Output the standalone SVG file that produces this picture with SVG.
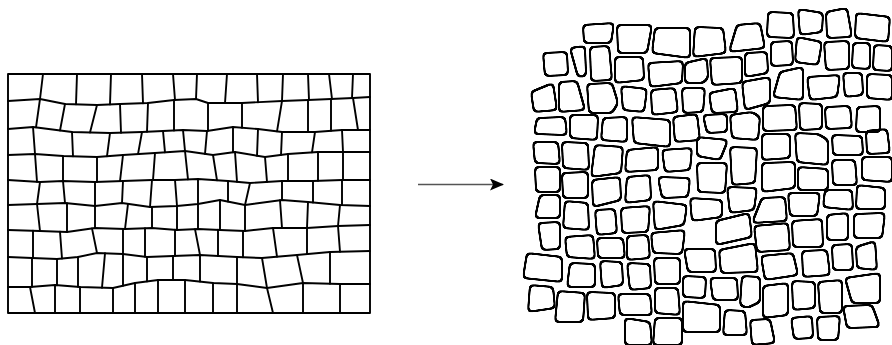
<svg xmlns="http://www.w3.org/2000/svg" width="892" height="345" viewBox="0 0 892 345">
<style>
.g{fill:none;stroke:#000;stroke-width:1.9;stroke-linejoin:round;stroke-linecap:round}
.t{fill:#000;filter:url(#rnd)}
</style>
<defs>
<filter id="rnd" x="-20%" y="-20%" width="140%" height="140%">
<feGaussianBlur in="SourceAlpha" stdDeviation="2" result="b"/>
<feComponentTransfer in="b" result="th"><feFuncA type="linear" slope="12" intercept="-5.5"/></feComponentTransfer>
<feMorphology in="th" operator="erode" radius="1" result="e"/>
<feMorphology in="th" operator="dilate" radius="1" result="d"/>
<feComposite in="d" in2="e" operator="out" result="ring"/>
<feFlood flood-color="#000" result="f"/>
<feComposite in="f" in2="ring" operator="in"/>
</filter>
<marker id="ah" viewBox="0 0 14 12" refX="13" refY="6" markerWidth="14" markerHeight="12" markerUnits="userSpaceOnUse" orient="auto">
<path d="M0,0 L14,6 L0,12 L3,6 Z" fill="#000"/>
</marker>
</defs>
<rect width="892" height="345" fill="#fff"/>
<g id="grid">
<rect class="g" x="8" y="74" width="362" height="239"/>
<polyline class="g" points="8,101 40,99 65,104 97,105 120,104 148,103 174,100 196,99 208,103 242,103 282,101 308,100 331,99 353,98 370,97"/>
<polyline class="g" points="8,129 33,127 72,132 110,133 142,132 163,131 183,130 207,131 233,127 258,129 282,132 315,132 342,130 370,130"/>
<polyline class="g" points="8,155 35,154 63,156 97,157 123,155 155,153 185,151 213,155 235,152 265,157 288,154 318,152 343,152 370,152"/>
<polyline class="g" points="8,180 40,182 63,181 95,182 123,181 152,180 175,180 198,179 228,181 250,183 282,181 313,181 342,180 370,180"/>
<polyline class="g" points="8,205 37,204 65,203 95,206 122,203 150,207 177,206 198,204 220,200 245,205 282,200 308,202 340,205 370,206"/>
<polyline class="g" points="8,230 40,231 67,232 95,228 125,229 152,228 177,230 198,229 220,230 245,231 273,228 307,228 338,226 370,225"/>
<polyline class="g" points="8,257 32,258 57,259 78,257 97,253 123,254 147,257 173,256 200,255 237,257 262,258 297,255 330,252 370,251"/>
<polyline class="g" points="8,287 30,287 55,285 80,287 113,288 135,283 158,280 185,280 213,283 237,284 267,288 303,283 340,284 370,284"/>
<path class="g" d="M43,74L40,99 M77,74L76,104.3 M111,74L110,104.4 M142,74L143,103.2 M173,74L175,100 M197,74L196,99 M227,74L225,103 M257,74L258,102.2 M283,74L282,101 M308,74L309,100 M329,74L332,99 M353,74L352,98"/>
<path class="g" d="M40,99L36,127.4 M65,104L60,130.5 M97,105L90,132.5 M120,104L121,132.7 M148,103L147,131.8 M174,100L174,130.5 M208,103L208,130.8 M242,103L242,127.7 M282,101L277,131.4 M308,100L308,132 M331,99L331,130.8 M353,98L358,130"/>
<path class="g" d="M33,127L35,154 M72,132L73,156.3 M110,133L107,156.2 M142,132L138,154.1 M163,131L165,152.3 M183,130L185,151 M207,131L205,153.9 M233,127L233,152.3 M258,129L257,155.7 M282,132L281,154.9 M315,132L312,152.4 M342,130L343,152"/>
<path class="g" d="M35,154L37,181.8 M63,156L63,181 M97,157L97,181.9 M123,155L120,181.1 M155,153L153,180 M185,151L188,179.4 M213,155L217,180.3 M235,152L237,181.8 M265,157L267,181.9 M288,154L288,181 M318,152L318,180.8 M343,152L343,180"/>
<path class="g" d="M40,182L37,204 M63,181L65,203 M95,182L95,206 M123,181L122,203 M152,180L150,207 M175,180L177,206 M198,179L198,204 M228,181L228,201.6 M250,183L245,205 M282,181L282,200 M313,181L313,202.5 M342,180L342,205.1"/>
<path class="g" d="M37,204L40,231 M67,203.2L67,232 M95,206L95,228 M128,203.9L125,229 M152,206.9L152,228 M177,206L177,230 M198,204L198,229 M220,200L220,230 M245,205L245,231 M280,200.3L282,228 M308,202L307,228 M340,205L338,226"/>
<path class="g" d="M33,230.8L33,258 M60,231.7L62,258.5 M92,228.4L97,253 M123,228.9L123,254 M145,228.3L145,256.75 M175,229.8L175,255.9 M195,229.1L200,255 M218,229.8L218,256 M243,230.9L243,257.2 M273,228L277,256.7 M307,228L307,254.1 M338,226L340,251.75"/>
<path class="g" d="M32,258L32,286.8 M57,259L57,285.2 M78,257L78,286.8 M105,253.3L102,287.7 M123,254L123,285.7 M147,257L147,281.4 M173,256L173,280 M200,255L200,281.6 M237,257L237,284 M262,258L267,288 M297,255L303,283 M330,252L330,283.7"/>
<path class="g" d="M30,287L35,313 M55,285L55,313 M80,287L80,313 M113,288L113,313 M135,283L135,313 M158,280L158,313 M185,280L185,313 M213,283L213,313 M237,284L237,313 M267,288L273,313 M303,283L303,313 M340,284L340,313"/>
</g>
<g id="connectors">
<line x1="418" y1="184.5" x2="503" y2="184.5" stroke="#555" stroke-width="1.6" marker-end="url(#ah)"/>
</g>
<g id="tiles">
<polygon class="t" points="583,25 614,23 611,43 584,43"/>
<polygon class="t" points="617,25 652,25 647,53 618,53"/>
<polygon class="t" points="655,28 690,28 690,58 652,53"/>
<polygon class="t" points="695,27 723,28 726,53 693,57"/>
<polygon class="t" points="737,25 760,23 765,48 729,52"/>
<polygon class="t" points="768,12 793,13 794,38 767,37"/>
<polygon class="t" points="798,9 823,13 822,32 800,35"/>
<polygon class="t" points="826,12 847,8 852,37 827,38"/>
<polygon class="t" points="856,13 890,17 888,42 855,38"/>
<polygon class="t" points="543,53 567,52 568,75 545,76"/>
<polygon class="t" points="570,48 585,46 586,76 578,77"/>
<polygon class="t" points="590,47 609,46 612,80 591,81"/>
<polygon class="t" points="615,57 643,57 644,80 615,83"/>
<polygon class="t" points="648,63 683,61 682,83 650,87"/>
<polygon class="t" points="685,63 707,58 708,78 703,83 685,83"/>
<polygon class="t" points="710,58 742,57 742,83 712,85"/>
<polygon class="t" points="745,53 767,52 768,73 745,77"/>
<polygon class="t" points="771,42 792,41 793,65 771,66"/>
<polygon class="t" points="797,37 822,42 818,65 795,62"/>
<polygon class="t" points="824,42 849,41 849,69 826,70"/>
<polygon class="t" points="853,43 870,43 870,69 852,68"/>
<polygon class="t" points="874,45 892,46 892,71 873,70"/>
<polygon class="t" points="531,92 553,83 557,110 534,112"/>
<polygon class="t" points="559,82 577,81 585,110 559,112"/>
<polygon class="t" points="587,84 612,83 618,103 612,113 589,113"/>
<polygon class="t" points="621,86 647,89 644,112 623,110"/>
<polygon class="t" points="651,90 675,88 678,112 652,115"/>
<polygon class="t" points="682,88 705,88 703,112 683,113"/>
<polygon class="t" points="709,93 735,88 738,112 712,113"/>
<polygon class="t" points="742,82 770,77 770,103 745,110"/>
<polygon class="t" points="780,72 803,67 803,100 773,97"/>
<polygon class="t" points="807,77 840,75 837,97 810,100"/>
<polygon class="t" points="843,73 862,73 863,95 845,97"/>
<polygon class="t" points="867,74 892,75 892,100 867,98"/>
<polygon class="t" points="537,118 565,117 567,135 534,134"/>
<polygon class="t" points="570,115 598,115 597,140 570,138"/>
<polygon class="t" points="603,118 627,117 627,142 601,140"/>
<polygon class="t" points="632,117 670,120 670,147 634,143"/>
<polygon class="t" points="673,117 697,114 700,140 675,142"/>
<polygon class="t" points="703,115 727,114 727,132 707,133"/>
<polygon class="t" points="730,115 752,112 760,117 758,140 732,138"/>
<polygon class="t" points="763,106 795,105 797,130 763,131"/>
<polygon class="t" points="799,103 822,104 822,129 800,130"/>
<polygon class="t" points="825,107 850,106 852,128 826,129"/>
<polygon class="t" points="857,107 880,106 880,132 856,132"/>
<polygon class="t" points="533,142 558,142 560,164 535,163"/>
<polygon class="t" points="562,142 588,143 589,170 563,168"/>
<polygon class="t" points="595,145 623,147 621,173 591,177"/>
<polygon class="t" points="627,150 658,147 658,170 625,172"/>
<polygon class="t" points="662,150 692,148 690,170 665,172"/>
<polygon class="t" points="697,137 728,140 720,160 697,156"/>
<polygon class="t" points="730,147 757,148 755,183 732,185"/>
<polygon class="t" points="762,134 790,134 790,158 762,160"/>
<polygon class="t" points="795,133 818,134 828,140 828,165 797,162"/>
<polygon class="t" points="832,135 862,136 863,155 833,155"/>
<polygon class="t" points="866,131 887,129 890,153 867,154"/>
<polygon class="t" points="535,167 560,167 560,192 536,192"/>
<polygon class="t" points="562,173 588,172 588,198 563,198"/>
<polygon class="t" points="592,180 620,177 621,200 593,207"/>
<polygon class="t" points="627,177 650,175 651,200 625,203"/>
<polygon class="t" points="658,177 690,178 688,197 662,198"/>
<polygon class="t" points="697,163 727,163 725,193 698,192"/>
<polygon class="t" points="762,163 795,162 795,188 762,192"/>
<polygon class="t" points="798,167 828,169 828,190 798,190"/>
<polygon class="t" points="832,160 855,160 857,185 833,185"/>
<polygon class="t" points="862,157 892,157 892,182 862,180"/>
<polygon class="t" points="540,195 560,195 560,218 535,218"/>
<polygon class="t" points="565,201 588,203 589,230 563,228"/>
<polygon class="t" points="595,210 615,209 617,233 597,235"/>
<polygon class="t" points="621,208 650,206 648,232 622,233"/>
<polygon class="t" points="653,201 687,205 684,225 655,230"/>
<polygon class="t" points="690,198 722,200 722,217 692,221"/>
<polygon class="t" points="727,187 757,188 754,210 730,213"/>
<polygon class="t" points="762,198 785,197 787,221 752,223"/>
<polygon class="t" points="788,193 820,193 817,216 790,216"/>
<polygon class="t" points="825,190 852,190 853,210 823,207"/>
<polygon class="t" points="857,185 885,188 885,209 856,209"/>
<polygon class="t" points="538,223 560,222 560,249 542,250"/>
<polygon class="t" points="565,237 593,235 595,259 567,257"/>
<polygon class="t" points="597,238 623,238 625,258 598,258"/>
<polygon class="t" points="627,236 648,235 650,258 627,260"/>
<polygon class="t" points="651,233 685,230 682,254 653,253"/>
<polygon class="t" points="716,221 749,213 752,237 716,245"/>
<polygon class="t" points="754,226 788,223 790,250 757,252"/>
<polygon class="t" points="792,221 822,219 823,247 793,247"/>
<polygon class="t" points="827,215 848,213 848,240 827,240"/>
<polygon class="t" points="854,214 885,213 882,238 854,238"/>
<polygon class="t" points="684,249 715,249 716,272 688,272"/>
<polygon class="t" points="719,250 755,243 758,272 721,273"/>
<polygon class="t" points="761,256 793,253 798,275 765,280"/>
<polygon class="t" points="802,251 827,250 830,275 803,277"/>
<polygon class="t" points="832,245 852,244 853,270 833,270"/>
<polygon class="t" points="856,247 875,241 877,270 857,268"/>
<polygon class="t" points="527,253 562,257 562,282 523,278"/>
<polygon class="t" points="570,263 595,264 595,287 567,287"/>
<polygon class="t" points="600,261 622,262 623,285 602,288"/>
<polygon class="t" points="627,263 650,264 651,288 630,290"/>
<polygon class="t" points="654,258 680,258 680,284 655,284"/>
<polygon class="t" points="683,276 706,277 705,298 683,297"/>
<polygon class="t" points="710,278 737,278 738,300 713,300"/>
<polygon class="t" points="742,276 760,277 760,302 747,308 740,305"/>
<polygon class="t" points="763,286 788,283 788,315 763,318"/>
<polygon class="t" points="792,281 815,282 815,308 793,310"/>
<polygon class="t" points="818,282 842,280 842,313 820,313"/>
<polygon class="t" points="845,278 880,273 880,303 852,303"/>
<polygon class="t" points="530,285 553,287 555,308 528,312"/>
<polygon class="t" points="558,291 585,293 583,322 555,322"/>
<polygon class="t" points="587,292 615,293 615,318 588,320"/>
<polygon class="t" points="618,294 650,294 652,315 620,315"/>
<polygon class="t" points="655,288 678,288 680,315 655,313"/>
<polygon class="t" points="683,301 720,305 720,332 683,332"/>
<polygon class="t" points="725,310 745,311 747,335 723,335"/>
<polygon class="t" points="750,320 770,319 775,343 752,345"/>
<polygon class="t" points="791,318 812,316 813,338 794,339"/>
<polygon class="t" points="817,317 840,316 838,340 818,340"/>
<polygon class="t" points="843,306 872,305 880,327 847,328"/>
<polygon class="t" points="625,318 650,322 652,345 625,345"/>
<polygon class="t" points="655,318 682,318 682,345 653,345"/>
</g>
</svg>
